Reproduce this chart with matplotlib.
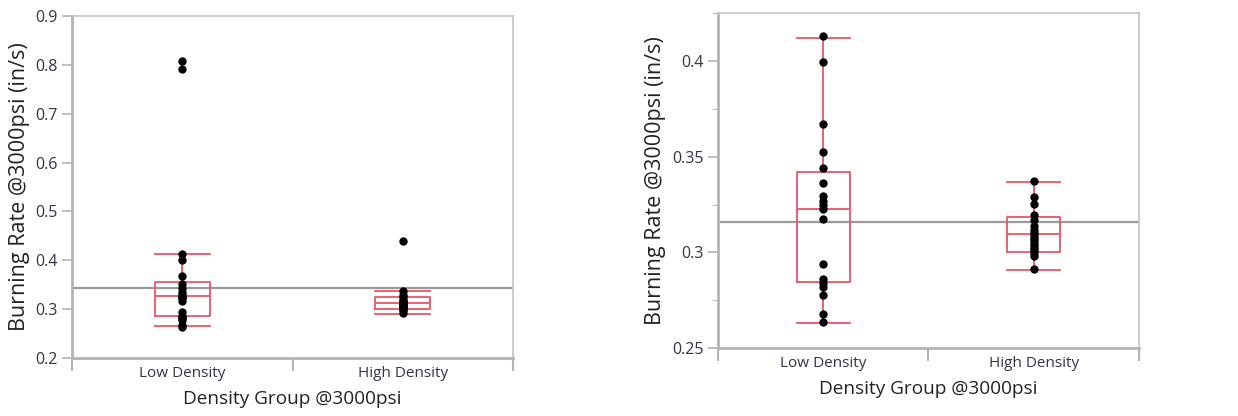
import numpy as np
import matplotlib
matplotlib.use('Agg')
import matplotlib.pyplot as plt
from matplotlib.ticker import FuncFormatter, MultipleLocator

plt.rcParams['font.family'] = ['Open Sans', 'DejaVu Sans']

# Categories
groups = ['Low Density', 'High Density']

# Burning rate data (in/s)
low_density = [0.4132, 0.3996, 0.3672, 0.3523, 0.3442, 0.3361, 0.3293, 0.3267, 0.3246,
               0.3225, 0.3177, 0.2939, 0.2863, 0.2842, 0.2819, 0.2777, 0.2679, 0.2635]
high_density = [0.3374, 0.3291, 0.3253, 0.3195, 0.3168, 0.3140, 0.3116, 0.3100, 0.3089,
                0.3075, 0.3063, 0.3050, 0.3037, 0.3024, 0.3011, 0.2995, 0.2979, 0.2914]
low_outliers = [0.808, 0.791]
high_outliers = [0.4397]

# Box stats: [whislo, q1, med, q3, whishi]
left_low_box = [0.2647, 0.2865, 0.3273, 0.3546, 0.4131]
left_high_box = [0.2906, 0.3000, 0.3124, 0.3240, 0.3380]
right_low_box = [0.2632, 0.2846, 0.3228, 0.3418, 0.4123]
right_high_box = [0.2907, 0.3000, 0.3096, 0.3184, 0.3368]

box_color = '#ef5366'
grid_grey = '#b4b4b4'
text_color = '#33334a'


def make_stats(vals):
    return {'whislo': vals[0], 'q1': vals[1], 'med': vals[2], 'q3': vals[3],
            'whishi': vals[4], 'fliers': []}


def draw_panel(ax, series, boxes, ylim, major, minor=None):
    positions = [0.5, 1.5]
    ax.bxp([make_stats(b) for b in boxes], positions=positions, widths=0.25,
           showfliers=False,
           boxprops=dict(color=box_color, lw=1.3),
           medianprops=dict(color=box_color, lw=1.3),
           whiskerprops=dict(color=box_color, lw=1.3),
           capprops=dict(color=box_color, lw=1.3),
           capwidths=0.25, zorder=2)
    all_vals = np.concatenate([np.asarray(s) for s in series])
    ax.axhline(all_vals.mean(), color='#9a9a9a', lw=1.6, zorder=1)
    for pos, s in zip(positions, series):
        ax.plot([pos] * len(s), s, 'o', color='black', ms=5, zorder=3)
    ax.set_xlim(0, 2)
    ax.set_ylim(*ylim)
    ax.set_xticks([0, 1, 2])
    ax.set_xticklabels([])
    ax.set_xticks(positions, minor=True)
    ax.set_xticklabels(groups, minor=True)
    ax.tick_params(axis='x', which='major', length=9, width=1.5, color=grid_grey)
    ax.tick_params(axis='x', which='minor', length=0, pad=6, labelsize=11, labelcolor=text_color)
    ax.yaxis.set_major_locator(MultipleLocator(major))
    if minor:
        ax.yaxis.set_minor_locator(MultipleLocator(minor))
        ax.tick_params(axis='y', which='minor', length=4, color=grid_grey)
    ax.yaxis.set_major_formatter(FuncFormatter(lambda v, p: '%g' % round(v, 3)))
    ax.tick_params(axis='y', which='major', length=7, width=1.2, color=grid_grey,
                   labelsize=11.5, labelcolor=text_color)
    for side in ['left', 'bottom']:
        ax.spines[side].set_color(grid_grey)
        ax.spines[side].set_linewidth(2)
    for side in ['top', 'right']:
        ax.spines[side].set_color('#c4c4c4')
        ax.spines[side].set_linewidth(1.2)
    ax.set_xlabel('Density Group @3000psi', fontsize=13.7, color='#222222', labelpad=6)
    ax.set_ylabel('Burning Rate @3000psi (in/s)', fontsize=15.5, color='#222222', labelpad=4)


fig = plt.figure(figsize=(12.38, 4.16), dpi=100)
ax1 = fig.add_axes([0.0582, 0.1394, 0.3562, 0.8221])
ax2 = fig.add_axes([0.5800, 0.1635, 0.3400, 0.8053])

draw_panel(ax1, [low_density + low_outliers, high_density + high_outliers],
           [left_low_box, left_high_box], (0.2, 0.9), 0.1)
draw_panel(ax2, [low_density, high_density],
           [right_low_box, right_high_box], (0.25, 0.4252), 0.05, 0.025)

fig.savefig('out.png', dpi=100)
